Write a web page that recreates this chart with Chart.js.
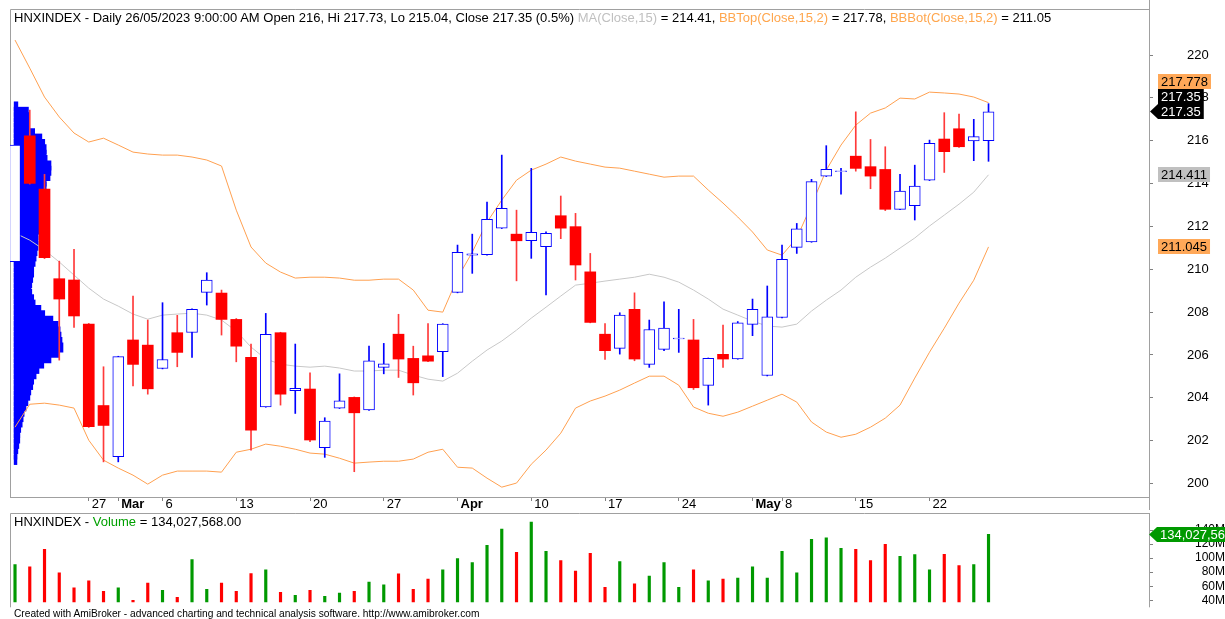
<!DOCTYPE html>
<html>
<head>
<meta charset="utf-8">
<script src="https://cdn.jsdelivr.net/npm/chart.js@4.4.1/dist/chart.umd.min.js"></script>
<style>
  body { margin: 0; background: #fff; width: 1225px; height: 619px; overflow: hidden; position: relative;
         font-family: "Liberation Sans", Arial, sans-serif; }
  canvas { position: absolute; left: 0; }
  #priceChart { top: 0; }
  #volChart { top: 512px; }
  .cap { position: absolute; left: 14px; white-space: nowrap; color: #000; line-height: 15px; font-size: 13px; }
  #priceCap { top: 10px; }
  #volCap { top: 514px; }
  #foot { position: absolute; left: 14px; top: 608px; font-size: 10.2px; line-height: 12px; white-space: nowrap; }
  .gray { color: #c0c0c0; }
  .orange { color: #ffa64d; }
  .green { color: #00a000; }
</style>
</head>
<body>
<canvas id="priceChart" width="1225" height="512"></canvas>
<canvas id="volChart" width="1225" height="107"></canvas>
<div class="cap" id="priceCap">HNXINDEX - Daily 26/05/2023 9:00:00 AM Open 216, Hi 217.73, Lo 215.04, Close 217.35 (0.5%) <span class="gray">MA(Close,15)</span> = 214.41, <span class="orange">BBTop(Close,15,2)</span> = 217.78, <span class="orange">BBBot(Close,15,2)</span> = 211.05</div>
<div class="cap" id="volCap">HNXINDEX - <span class="green">Volume</span> = 134,027,568.00</div>
<div id="foot">Created with AmiBroker - advanced charting and technical analysis software. http://www.amibroker.com</div>
<script>
// trading days, 20/02/2023 .. 26/05/2023
const dates = [
  '20/02','21/02','22/02','23/02','24/02','27/02','28/02',
  '01/03','02/03','03/03','06/03','07/03','08/03','09/03','10/03','13/03','14/03','15/03','16/03','17/03',
  '20/03','21/03','22/03','23/03','24/03','27/03','28/03','29/03','30/03','31/03',
  '03/04','04/04','05/04','06/04','07/04','10/04','11/04','12/04','13/04','14/04',
  '17/04','18/04','19/04','20/04','21/04','24/04','25/04','26/04','27/04','28/04',
  '04/05','05/05','08/05','09/05','10/05','11/05','12/05','15/05','16/05','17/05','18/05','19/05',
  '22/05','23/05','24/05','25/05','26/05'
];

const opens = [210.35,216.23,213.74,209.56,209.50,207.44,203.64,201.25,206.70,206.46,
  205.37,207.04,207.05,208.92,208.89,207.66,205.89,203.58,207.04,204.33,
  204.41,201.67,203.52,204.02,203.43,205.42,206.97,205.84,205.96,206.15,
  208.92,210.66,210.68,211.92,211.64,211.33,211.05,212.50,211.99,209.88,
  206.97,206.31,208.13,205.56,206.26,206.75,206.70,204.58,206.03,205.82,
  207.43,205.04,207.75,211.02,211.28,214.35,214.56,215.28,214.79,214.66,
  212.80,212.97,214.16,216.08,216.56,215.99,216];
const highs = [215.95,217.43,214.43,210.38,210.93,207.47,205.45,205.94,208.75,207.63,
  208.44,207.85,208.15,209.84,209.03,207.70,206.51,207.94,207.06,206.51,
  205.17,203.07,205.12,204.04,206.41,206.54,207.90,206.41,207.47,207.46,
  211.13,211.64,213.14,215.33,212.76,214.71,211.75,213.42,212.61,210.74,
  207.47,207.97,208.90,207.63,208.48,208.13,207.66,205.86,207.39,207.56,
  208.61,209.22,211.13,212.14,214.20,215.77,214.71,217.35,216.06,215.72,
  214.43,214.86,216.03,217.31,217.25,217.00,217.73];
const lows = [210.25,213.98,210.50,205.76,207.29,202.62,201.01,201.01,204.56,204.17,
  205.35,205.45,205.89,208.33,206.93,205.68,201.56,203.56,203.66,203.27,
  201.95,201.22,203.50,200.55,203.41,205.12,204.95,204.13,205.69,204.99,
  208.90,209.81,210.66,211.90,209.46,210.51,208.80,211.43,209.50,207.50,
  205.79,206.04,205.73,205.42,206.20,206.12,204.39,203.66,205.42,205.80,
  206.90,205.02,207.73,210.74,211.26,214.33,213.51,214.58,213.76,212.74,
  212.78,212.30,214.14,214.52,215.69,215.07,215.04];
const closes = [215.80,214.01,210.54,208.61,207.82,202.65,202.71,205.92,205.56,204.42,
  205.79,206.12,208.13,209.50,207.66,206.41,202.49,206.96,204.17,204.44,
  202.03,202.91,203.86,203.30,205.73,205.59,205.81,204.70,205.71,207.44,
  210.79,210.72,212.33,212.84,211.33,211.72,211.68,211.92,210.20,207.52,
  206.20,207.86,205.81,207.19,207.25,206.79,204.47,205.84,205.81,207.50,
  208.13,207.78,210.46,211.89,214.09,214.66,214.60,214.71,214.35,212.80,
  213.65,213.88,215.88,215.49,215.72,216.19,217.35];

// volume, millions of shares
const volumes = [90.8,87.5,112.7,78.9,57.5,67.5,52.7,57.5,39.9,64.6,
  54.1,44.1,97.9,55.6,64.6,52.7,77.9,83.2,51.3,47.0,
  54.1,45.6,50.3,52.7,66.0,61.8,77.5,55.6,70.3,83.2,
  99.4,93.6,118.4,141.7,108.4,151.7,109.8,96.5,81.7,107.0,
  58.4,95.1,63.2,74.6,93.6,58.4,83.2,67.5,70.3,71.7,
  87.5,71.7,109.8,78.9,127.0,128.9,114.1,112.7,96.5,119.8,
  102.7,105.1,83.2,105.5,89.4,90.8,134.027568];

const ma15 = [211.69,211.36,210.90,210.34,209.73,209.12,208.61,208.28,207.91,207.67,
  207.86,207.91,207.95,207.86,207.63,207.11,206.37,205.81,205.57,205.48,
  205.43,205.48,205.39,205.25,205.25,205.29,205.29,205.06,204.87,204.78,
  205.15,205.71,206.23,206.65,207.16,207.72,208.23,208.75,209.26,209.35,
  209.45,209.54,209.63,209.77,209.63,209.40,209.03,208.61,208.14,207.86,
  207.58,207.35,207.30,207.44,208.05,208.56,209.03,209.63,210.10,210.52,
  210.99,211.46,212.02,212.53,213.04,213.60,214.411];
const bbTop = [220.70,219.39,218.04,217.11,216.36,215.94,216.12,215.80,215.47,215.38,
  215.33,215.33,215.24,215.10,214.82,212.76,211.04,210.29,209.87,209.59,
  209.63,209.63,209.59,209.49,209.49,209.54,209.54,209.03,208.09,208.00,
  209.59,210.80,212.20,213.23,214.16,214.63,214.91,215.24,215.05,214.91,
  214.77,214.72,214.58,214.44,214.30,214.35,214.35,213.70,213.09,212.44,
  211.74,210.90,210.66,211.46,213.00,214.63,215.80,216.73,217.29,217.53,
  217.99,217.95,218.27,218.23,218.18,218.04,217.778];
const bbBot = [202.63,203.70,203.75,203.66,203.52,202.02,201.09,200.72,200.39,199.97,
  200.39,200.58,200.58,200.58,200.53,201.46,201.60,201.84,201.74,201.60,
  201.42,201.37,201.18,200.95,201.00,201.04,201.04,201.14,201.46,201.60,
  200.76,200.72,200.25,199.83,200.02,200.90,201.56,202.35,203.52,203.85,
  204.08,204.36,204.69,205.01,205.01,204.59,203.57,203.28,203.14,203.33,
  203.61,203.89,204.17,203.80,202.87,202.40,202.16,202.30,202.63,203.05,
  203.66,204.92,206.13,207.25,208.42,209.49,211.045];

// price-volume distribution (relative volume per price bin)
const profPrice = [217.60,217.35,217.10,216.85,216.60,216.35,216.10,215.85,215.60,215.35,
  215.10,214.85,214.60,214.35,214.10,213.85,213.60,213.35,213.10,212.85,
  212.60,212.35,212.10,211.85,211.60,211.35,211.10,210.85,210.60,210.35,
  210.10,209.85,209.60,209.35,209.10,208.85,208.60,208.35,208.10,207.85,
  207.60,207.35,207.10,206.85,206.60,206.35,206.10,205.85,205.60,205.35,
  205.10,204.85,204.60,204.35,204.10,203.85,203.60,203.35,203.10,202.85,
  202.60,202.35,202.10,201.85,201.60,201.35,201.10];
const profVol = [5,27,28,28,29,40,55,61,64,64,
  66,74,74,72,64,64,61,59,57,55,
  53,53,51,49,47,47,47,45,43,41,
  38,38,36,34,32,34,38,41,53,61,
  78,89,93,95,97,99,91,74,59,49,
  43,38,36,32,30,26,22,18,16,14,
  11,9,9,7,5,3,3];

const xTickDates = ['27/02','01/03','06/03','13/03','20/03','27/03','03/04','10/04','17/04','24/04','04/05','08/05','15/05','22/05'];
const xTickText = ['27','Mar','6','13','20','27','Apr','10','17','24','May','8','15','22'];
const priceTicks = [200,202,204,206,208,210,212,214,216,218,220];
const volTicks = [40,60,80,100,120,140];

const FONT = '"Liberation Sans", Arial, sans-serif';
Chart.defaults.font.family = FONT;
Chart.defaults.color = '#000';

const idx = dates.map((d, i) => i);
const up = closes.map((c, i) => c >= opens[i]);
const tickIdx = xTickDates.map(d => dates.indexOf(d));
const xMin = -0.34, xMax = 76.88;

// axis sizes are fixed so the plot lands where AmiBroker puts it
function fixWidth(w) {
  return s => { s.width = w; s.paddingTop = 0; s.paddingBottom = 0; };
}
function fixHeight(h) {
  return s => { s.height = h; s.paddingLeft = 0; s.paddingRight = 0; };
}

// pane border: left + top, and the right axis line run down past the plot
const frame = {
  id: 'frame',
  beforeDatasetsDraw(chart, args, opts) {
    const {ctx, chartArea: a} = chart;
    const ext = opts.extend || 0;
    ctx.save();
    ctx.strokeStyle = '#a0a0a0';
    ctx.lineWidth = 1;
    ctx.beginPath();
    ctx.moveTo(a.left + 0.5, a.bottom + ext);
    ctx.lineTo(a.left + 0.5, a.top + 0.5);
    ctx.lineTo(a.right, a.top + 0.5);
    ctx.moveTo(a.right + 0.5, opts.rightFrom !== undefined ? opts.rightFrom : a.top);
    ctx.lineTo(a.right + 0.5, a.bottom + (opts.rightExtend || 0));
    ctx.stroke();
    ctx.restore();
  }
};

function valueBox(ctx, x, y, text, bg, fg, arrow, size) {
  ctx.font = size + 'px ' + FONT;
  const w = ctx.measureText(text).width + 6, h = 15;
  const top = Math.round(y - h / 2);
  ctx.fillStyle = bg;
  ctx.fillRect(x, top, w, h);
  if (arrow) {
    ctx.beginPath();
    ctx.moveTo(x - 8, top + h / 2);
    ctx.lineTo(x, top);
    ctx.lineTo(x, top + h);
    ctx.closePath();
    ctx.fill();
  }
  ctx.fillStyle = fg;
  ctx.textAlign = 'left';
  ctx.textBaseline = 'middle';
  ctx.fillText(text, x + 3, top + h / 2 + 1);
}

const priceBoxes = {
  id: 'priceBoxes',
  afterDraw(chart) {
    const {ctx, chartArea: a} = chart;
    const y = chart.scales.y;
    const last = closes.length - 1;
    const yc = y.getPixelForValue(closes[last]);
    const bx = a.right + 9;
    ctx.save();
    valueBox(ctx, bx, yc - 30, bbTop[last].toFixed(3), '#ffa858', '#000', false, 13);
    valueBox(ctx, bx, yc - 15, closes[last].toFixed(2), '#000', '#fff', false, 13);
    valueBox(ctx, bx, yc, closes[last].toFixed(2), '#000', '#fff', true, 13);
    valueBox(ctx, bx, y.getPixelForValue(ma15[last]), ma15[last].toFixed(3), '#c0c0c0', '#000', false, 13);
    valueBox(ctx, bx, y.getPixelForValue(bbBot[last]), bbBot[last].toFixed(3), '#ffa858', '#000', false, 13);
    ctx.restore();
  }
};

const volBox = {
  id: 'volBox',
  afterDraw(chart) {
    const {ctx, chartArea: a} = chart;
    const last = volumes.length - 1;
    const yv = chart.scales.y.getPixelForValue(volumes[last]);
    ctx.save();
    valueBox(ctx, a.right + 8, yv, Math.round(volumes[last] * 1e6).toLocaleString('en-US'), '#009900', '#fff', true, 13);
    ctx.restore();
  }
};

new Chart(document.getElementById('priceChart'), {
  data: {
    datasets: [
      {
        type: 'bar', label: 'Volume profile', indexAxis: 'y', xAxisID: 'xp', yAxisID: 'y',
        data: profPrice.map((p, k) => ({x: profVol[k], y: p})),
        backgroundColor: '#0000ff', borderWidth: 0, inflateAmount: 1,
        barThickness: 8, grouped: false, order: 10
      },
      {
        type: 'line', label: 'BBTop', xAxisID: 'x', yAxisID: 'y',
        data: idx.map(i => ({x: i, y: bbTop[i]})),
        borderColor: '#ffa050', borderWidth: 1, pointRadius: 0, order: 6
      },
      {
        type: 'line', label: 'BBBot', xAxisID: 'x', yAxisID: 'y',
        data: idx.map(i => ({x: i, y: bbBot[i]})),
        borderColor: '#ffa050', borderWidth: 1, pointRadius: 0, order: 6
      },
      {
        type: 'line', label: 'MA', xAxisID: 'x', yAxisID: 'y',
        data: idx.map(i => ({x: i, y: ma15[i]})),
        borderColor: '#c8c8c8', borderWidth: 1, pointRadius: 0, order: 5
      },
      {
        type: 'bar', label: 'Wick', xAxisID: 'x', yAxisID: 'y',
        data: idx.map(i => ({x: i, y: [lows[i], highs[i]]})),
        backgroundColor: up.map(u => u ? '#0000ff' : '#ff3a3a'),
        barThickness: 1, grouped: false, order: 3
      },
      {
        type: 'bar', label: 'Body', xAxisID: 'x', yAxisID: 'y',
        data: idx.map(i => ({x: i, y: [Math.min(opens[i], closes[i]), Math.max(opens[i], closes[i])]})),
        backgroundColor: up.map(u => u ? '#ffffff' : '#ff0000'),
        borderColor: up.map(u => u ? '#0000ff' : '#ff0000'),
        borderWidth: up.map(u => u ? 1 : 0),
        borderSkipped: false, barThickness: 11, grouped: false, order: 1
      }
    ]
  },
  options: {
    responsive: false,
    animation: false,
    devicePixelRatio: 1,
    layout: {padding: {left: 10, top: 9, right: 0, bottom: 0}},
    plugins: {
      legend: {display: false},
      tooltip: {enabled: false},
      frame: {rightFrom: 0, rightExtend: 13}
    },
    scales: {
      x: {
        type: 'linear', position: 'bottom', min: xMin, max: xMax, offset: false,
        afterFit: fixHeight(15),
        afterBuildTicks: s => { s.ticks = tickIdx.map(v => ({value: v})); },
        grid: {drawOnChartArea: false, drawTicks: true, tickLength: 4, color: '#808080', offset: false},
        border: {display: true, color: '#a0a0a0'},
        ticks: {
          autoSkip: false, maxRotation: 0, minRotation: 0, align: 'start', labelOffset: 3, padding: -4,
          callback: (v, k) => xTickText[k],
          font: c => ({size: 13, weight: /[A-Za-z]/.test(xTickText[c.index] || '') ? 'bold' : 'normal'})
        }
      },
      xp: {type: 'linear', display: false, min: -10, max: 2363, offset: false},
      y: {
        type: 'linear', position: 'right', min: 199.37, max: 222.15, offset: false,
        afterFit: fixWidth(76),
        afterBuildTicks: s => { s.ticks = priceTicks.map(v => ({value: v})); },
        grid: {drawOnChartArea: false, tickLength: 4, color: '#808080', offset: false},
        border: {display: true, color: '#a0a0a0'},
        ticks: {font: {size: 13}, padding: 34, callback: v => String(v)}
      }
    }
  },
  plugins: [frame, priceBoxes]
});

new Chart(document.getElementById('volChart'), {
  data: {
    datasets: [{
      type: 'bar', label: 'Volume',
      data: idx.map(i => ({x: i, y: volumes[i]})),
      backgroundColor: up.map(u => u ? '#009900' : '#ff0000'),
      barThickness: 2.5, grouped: false
    }]
  },
  options: {
    responsive: false,
    animation: false,
    devicePixelRatio: 1,
    layout: {padding: {left: 10, top: 1, right: 0, bottom: 16.7}},
    plugins: {
      legend: {display: false},
      tooltip: {enabled: false},
      frame: {extend: 5, rightExtend: 5}
    },
    scales: {
      x: {type: 'linear', display: false, min: xMin, max: xMax, offset: false},
      y: {
        type: 'linear', position: 'right', min: 37, max: 164.5, offset: false,
        afterFit: fixWidth(76),
        afterBuildTicks: s => { s.ticks = volTicks.map(v => ({value: v})); },
        grid: {drawOnChartArea: false, tickLength: 4, color: '#808080', offset: false},
        border: {display: true, color: '#a0a0a0'},
        ticks: {font: {size: 12}, crossAlign: 'far', padding: 27, callback: v => v + 'M'}
      }
    }
  },
  plugins: [frame, volBox]
});
</script>
</body>
</html>
